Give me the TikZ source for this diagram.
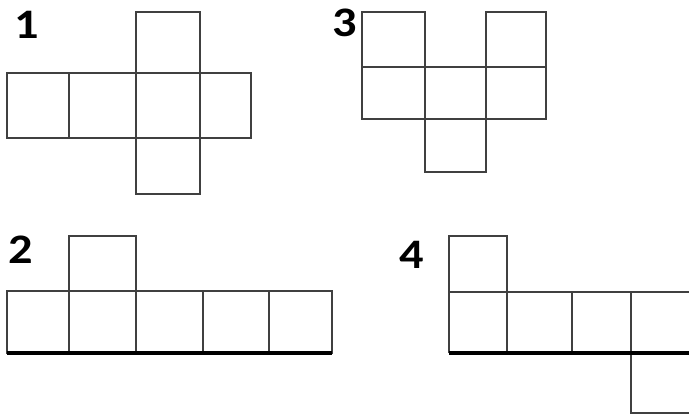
\documentclass[tikz,border=0pt]{standalone}
\usepackage{fontspec}
\setmainfont{Carlito}
\begin{document}
\begin{tikzpicture}[x=1pt,y=-1pt,
  cell/.style={draw=black!75,line width=1.1pt},
  base/.style={draw=black,line width=3.2pt},
  lbl/.style={font=\fontsize{42}{42}\selectfont\bfseries,inner sep=0pt,text=black,xscale=1.15}]
\useasboundingbox (0,0) rectangle (689,415);
% Net 1
\node[lbl] (l1) at (27,25) {1};
\draw[cell] (7,73) rectangle (251,138);
\draw[cell] (69,73) -- (69,138);
\draw[cell] (136,12) rectangle (200,73);
\draw[cell] (136,73) -- (136,138);
\draw[cell] (200,73) -- (200,138);
\draw[cell] (136,138) rectangle (200,194);
% Net 3
\node[lbl] (l3) at (345,23) {3};
\draw[cell] (362,12) rectangle (425,67);
\draw[cell] (486,12) rectangle (546,67);
\draw[cell] (362,67) rectangle (546,119);
\draw[cell] (425,67) -- (425,119);
\draw[cell] (486,67) -- (486,119);
\draw[cell] (425,119) rectangle (486,172);
% Net 2
\node[lbl] (l2) at (21,250) {2};
\draw[cell] (69,236) rectangle (136,291);
\draw[cell] (7,291) rectangle (332,353);
\draw[cell] (69,291) -- (69,353);
\draw[cell] (136,291) -- (136,353);
\draw[cell] (203,291) -- (203,353);
\draw[cell] (269,291) -- (269,353);
\draw[base] (7,353) -- (332,353);
% Net 4
\node[lbl] (l4) at (412,255) {4};
\draw[cell] (449,236) rectangle (507,292);
\draw[cell] (449,292) -- (689,292);
\draw[cell] (449,292) -- (449,353);
\draw[cell] (507,292) -- (507,353);
\draw[cell] (572,292) -- (572,353);
\draw[cell] (631,292) -- (631,413) -- (689,413);
\draw[base] (449,353) -- (689,353);
\end{tikzpicture}
\end{document}
